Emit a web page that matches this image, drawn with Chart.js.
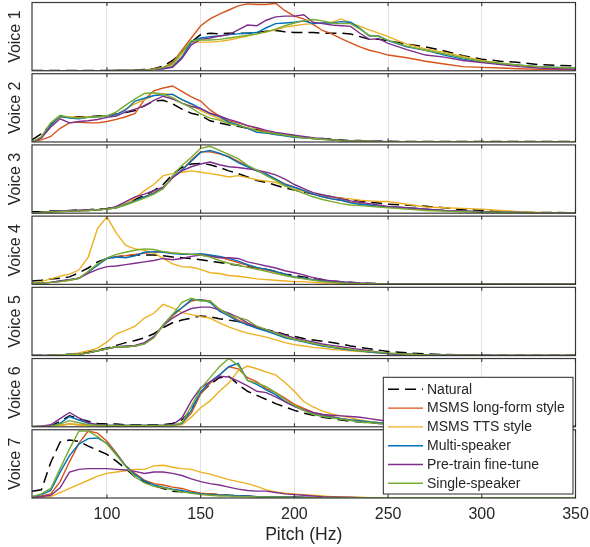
<!DOCTYPE html>
<html>
<head>
<meta charset="utf-8">
<title>Pitch distributions per voice</title>
<script src="https://cdn.jsdelivr.net/npm/chart.js@4.4.1/dist/chart.umd.min.js"></script>
<style>
  html, body { margin: 0; padding: 0; background: #fff; }
  #wrap { position: relative; width: 590px; height: 547px; }
</style>
</head>
<body>
<div id="wrap"><canvas id="pitchChart" width="590" height="547"></canvas></div>
<script>
// x positions of the histogram points (Hz)
const PITCH = [60,65,70,75,80,85,90,95,100,105,110,115,120,125,130,135,140,145,150,155,160,165,170,175,180,185,190,195,200,205,210,215,220,225,230,235,240,245,250,260,270,280,290,300,310,320,330,340,350];
const X_TICKS = [100, 150, 200, 250, 300, 350];
const VOICE_LABELS = ["Voice 1", "Voice 2", "Voice 3", "Voice 4", "Voice 5", "Voice 6", "Voice 7"];
const SERIES_LABELS = ["Natural", "MSMS long-form style", "MSMS TTS style", "Multi-speaker", "Pre-train fine-tune", "Single-speaker"];
const SERIES_COLORS = ["#000000", "#D95319", "#EDB120", "#0072BD", "#7E2F8E", "#77AC30"];

// values are relative density, 0-100 of each panel's height
const voice1Natural  = [0.5,0.5,0.5,0.5,0.5,0.5,0.5,0.5,0.5,0.5,0.5, 1,2,3,7,15,27,42,53,55,54, 55,55,55,56,58,59,57,56,56,56, 55,55,55,54,50,46,46,44, 39,35,29,22,17,14,12,9,8,7];
const voice1LongForm = [0,0,0,0,0,0,0,0,0,0.3,0.5, 1,1,3,5,12,30,48,66,76,83, 89,95,98,97,97,99,88,80,76,68, 59,54,47,41,35,30,27,23, 19,14,10,6,5,4,3,2,2,1];
const voice1Tts      = [0,0,0,0,0,0,0,0,0,0.3,0.5, 0.5,1,2,4,8,25,42,42,42,43, 45,48,51,54,57,60,64,66,68,69, 70,71,76,70,65,60,55,50, 39,32,27,21,15,11,8,6,4,3];
const voice1Multi    = [0,0,0,0,0,0,0,0,0,0.3,0.5, 0.5,1,2,3,6,20,42,48,50,51, 53,54,55,56,63,69,70,71,73,69, 70,70,72,71,62,51,51,44, 35,30,23,17,13,10,8,6,5,4];
const voice1PreTrain = [0,0,0,0,0,0,0,0,0,0.3,0.5, 0.5,1,2,3,5,18,38,46,48,51, 53,60,67,66,74,79,80,80,82,71, 69,67,66,65,55,46,47,40, 31,23,20,15,12,9,6,4,3,2];
const voice1Single   = [0,0,0,0,0,0,0,0,0,0.3,0.5, 0.5,1,2,5,10,28,44,45,45,46, 48,50,52,54,57,61,66,70,73,75, 73,70,69,69,61,52,50,45, 36,30,25,19,14,11,8,6,5,4];

const voice2Natural  = [3,12,25,37,37,37,37,38,39,41,43, 46,53,60,61,56,48,42,39,31,28, 25,23,20,18,15,12,10,9,7,6, 5,4,3,2,2,1,1,1, 0.5,0.5,0.5,0.5,0.5,0.5,0.5,0.5,0.5,0.5];
const voice2LongForm = [0,3,8,20,28,29,28,28,30,33,37, 42,62,75,79,82,74,66,60,47,38, 31,28,24,20,15,12,10,8,7,5, 4,3,2,1,1,0.5,0.5,0.5, 0.3,0.3,0.3,0.3,0.3,0.3,0.3,0.3,0.3,0.3];
const voice2Tts      = [0,6,24,37,37,36,37,37,38,40,48, 56,62,68,71,69,62,55,46,40,34, 29,25,20,16,13,11,9,7,6,5, 4,3,2,1.5,1,1,0.5,0.5, 0.3,0.3,0.3,0.3,0.3,0.3,0.3,0.3,0.3,0.3];
const voice2Multi    = [0,6,25,38,35,34,36,37,38,40,47, 60,64,68,69,70,62,56,49,42,37, 29,25,20,14,13,11,9,7,6,5, 4,3,2,1.5,1,1,0.5,0.5, 0.3,0.3,0.3,0.3,0.3,0.3,0.3,0.3,0.3,0.3];
const voice2PreTrain = [0,6,22,34,28,30,31,33,36,38,44, 48,53,61,67,63,57,52,49,42,38, 33,29,24,21,17,14,12,10,8,6, 5,3,2,2,1.5,1,1,0.5, 0.3,0.3,0.3,0.3,0.3,0.3,0.3,0.3,0.3,0.3];
const voice2Single   = [0,8,28,39,36,35,36,37,38,44,54, 63,71,72,70,65,57,50,41,35,32, 27,24,21,17,14,12,10,8,6,5, 4,3,2,1.5,1,1,0.5,0.5, 0.3,0.3,0.3,0.3,0.3,0.3,0.3,0.3,0.3,0.3];

const voice3Natural  = [2,2,3,3,4,5,5,6,7,9,14, 20,26,33,42,57,67,72,73,71,67, 62,58,53,48,45,41,37,34,31,28, 26,24,22,20,18,16,15,13, 12,10,8,5,4,2,1.5,1,1,0.5];
const voice3LongForm = [0,1,2,3,3,4,4,5,6,8,13, 18,24,30,37,52,63,78,90,90,87, 83,76,69,62,57,50,43,38,33,28, 24,21,19,16,14,12,10,9, 8,6,4,3,2,1.5,1,0.5,0.5,0.5];
const voice3Tts      = [0,1,2,2,3,4,4,5,6,9,14, 22,33,42,55,58,60,62,60,58,56, 53,55,52,49,47,45,40,35,32,29, 26,24,22,21,19,18,17,17, 13,9,8,7,6,4,2,1,0.5,0.5];
const voice3Multi    = [0,1,2,3,3,4,4,5,6,8,13, 18,24,29,37,53,63,76,89,92,88, 82,74,68,62,57,50,42,38,33,28, 24,21,19,15,13,12,10,9, 8,6,4,3,2,1.5,1,0.5,0.5,0.5];
const voice3PreTrain = [0,1,2,3,3,4,5,5,6,10,17, 24,28,33,38,52,62,68,72,75,71, 68,67,65,63,60,56,50,42,36,30, 27,24,21,18,16,14,12,10, 8,6,4,3,2,1,1,0.5,0.5,0.3];
const voice3Single   = [0,1,2,2,3,3,4,5,6,8,12, 17,22,28,36,55,70,82,95,98,92, 86,80,70,63,55,48,40,34,29,24, 20,17,14,12,11,10,9,8, 6,4,3,2,1.5,1,0.5,0.5,0.3,0.3];

const voice4Natural  = [5,6,8,9,11,17,24,33,38,40,42, 43,43,43,42,40,39,38,36,34,32, 30,28,26,24,22,19,15,13,11,9, 7,5,4,3,2,1.5,1,1, 0.5,0.5,0.5,0.5,0.5,0.5,0.5,0.5,0.5,0.5];
const voice4LongForm = [1,2,3,4,6,9,18,29,38,41,42, 44,46,47,48,46,45,44,44,42,40, 36,32,28,24,21,18,14,11,9,7, 5,4,3,2,1.5,1,0.5,0.5, 0.3,0.3,0.3,0.3,0.3,0.3,0.3,0.3,0.3,0.3];
const voice4Tts      = [2,4,8,12,15,21,40,82,99,75,57, 52,50,46,38,30,26,25,22,17,16, 13,12,10,8,7,6,5,4,4,3, 2,2,1.5,1,1,1,0.5,0.5, 0.3,0.3,0.3,0.3,0.3,0.3,0.3,0.3,0.3,0.3];
const voice4Multi    = [1,2,3,5,7,9,18,28,38,40,39, 42,47,48,47,45,44,44,45,43,41, 38,34,29,25,22,19,15,11,9,7, 5,4,3,2,1.5,1,0.5,0.5, 0.3,0.3,0.3,0.3,0.3,0.3,0.3,0.3,0.3,0.3];
const voice4PreTrain = [1,2,3,5,7,9,16,22,26,27,29, 31,33,35,38,36,38,41,43,41,39, 39,38,33,30,27,24,20,17,14,10, 7,5,4,3,2,1.5,1,1, 0.5,0.5,0.3,0.3,0.3,0.3,0.3,0.3,0.3,0.3];
const voice4Single   = [1,2,3,4,6,9,19,30,39,44,47, 50,52,51,48,46,45,44,43,40,35, 31,28,25,22,19,16,13,10,8,6, 4,3,2,1.5,1,1,0.5,0.5, 0.3,0.3,0.3,0.3,0.3,0.3,0.3,0.3,0.3,0.3];

const voice5Natural  = [0.5,0.5,1,1,2,3,5,8,11,15,19, 22,26,32,41,48,52,55,58,57,54, 52,50,45,42,38,35,31,28,25,23, 21,19,17,14,12,10,8,6, 4,2.5,1.5,1,0.5,0.5,0.5,0.5,0.5,0.5];
const voice5LongForm = [0,0,0.5,1,1.5,2,4,7,10,13,13, 14,18,27,44,58,70,80,82,80,68, 60,52,46,41,37,32,27,24,21,18, 15,12,10,8,7,5,4,3, 2,1,1,0.5,0.5,0.3,0.3,0.3,0.3,0.3];
const voice5Tts      = [0,0,0.5,1,2,4,7,11,20,32,37, 43,55,62,75,70,63,60,57,55,48, 42,37,33,30,27,23,19,16,14,12, 11,9,8,7,6,5,4,3, 2,1,0.5,0.3,0.3,0.3,0.3,0.3,0.3,0.3];
const voice5Multi    = [0,0,0.5,1,1.5,2,4,7,10,13,13, 14,18,27,45,60,70,82,82,78,65, 58,50,45,40,36,31,26,23,20,17, 14,12,10,8,7,5,4,3, 2,1,1,0.5,0.5,0.3,0.3,0.3,0.3,0.3];
const voice5PreTrain = [0,0,0.5,1,1.5,2,4,7,10,13,14, 15,19,28,44,55,63,69,71,71,67, 62,56,48,42,38,34,30,26,23,20, 17,15,13,11,9,7,5,3, 2,1,0.5,0.5,0.3,0.3,0.3,0.3,0.3,0.3];
const voice5Single   = [0,0,0.5,1,1.5,2,4,7,10,13,13, 14,17,26,45,60,78,84,80,80,68, 60,56,52,43,38,33,28,24,21,18, 15,13,11,9,7,6,5,4, 2,1,0.5,0.5,0.3,0.3,0.3,0.3,0.3,0.3];

const voice6Natural  = [0.5,0.5,1,8,16,12,8,5,4,4,3, 3,3,3,3,5,10,25,50,62,72, 74,62,52,46,40,34,29,24,20,17, 14,12,10,8,7,6,5,4, 3,2,1.5,1,0.5,0.5,0.5,0.5,0.5,0.5];
const voice6LongForm = [0,0.5,1,2,4,3,2,2,1.5,1.5,1.5, 1.5,1.5,1.5,1.5,2,5,20,48,64,76, 88,85,72,66,56,50,42,33,27,21, 18,15,12,10,9,7,6,5, 4,3,2,1.5,1,1,0.5,0.5,0.5,0.5];
const voice6Tts      = [0,0,1,2,4,3,2,1.5,1.5,1,1, 1,1,1,1,2,3,14,28,38,52, 64,82,89,85,80,76,65,52,37,29, 23,19,16,13,10,8,6,5, 4,3,2,1,1,0.5,0.5,0.3,0.3,0.3];
const voice6Multi    = [0,0.5,1,5,15,10,5,3,2,2,2, 2,2,2,2,2,5,24,51,66,76, 88,93,68,62,54,47,37,30,24,19, 16,14,12,10,9,7,6,5, 4,3,2,1.5,1,1,0.5,0.5,0.5,0.5];
const voice6PreTrain = [0,1,3,12,21,13,6,3,2,2,2, 2,2,2,2,3,13,38,57,66,74, 73,67,60,52,50,44,37,30,25,21, 18,17,16,15,14,12,10,8, 6,4,3,2,1.5,1,0.5,0.5,0.5,0.5];
const voice6Single   = [0,0.5,1,4,9,6,3,2,2,2,2, 2,2,2,2,2,6,30,56,72,88, 100,90,68,64,59,50,40,31,24,18, 15,13,11,9,7,6,5,4, 3,2,1.5,1,1,0.5,0.5,0.5,0.5,0.5];

const voice7Natural  = [10,12,52,82,85,83,76,70,64,54,43, 31,24,18,14,10,9,8,7,6,5, 4,3.5,3,2,1.5,1,1,1,0.8,0.5, 0.5,0.5,0.5,0.5,0.5,0.5,0.5,0.5, 0.5,0.5,0.5,0.5,0.5,0.5,0.5,0.5,0.5,0.5];
const voice7LongForm = [1.5,3,6,24,53,80,98,95,83,66,47, 36,26,21,19,16,14,10,7,6,5, 4,3,3,2,2,1.5,1.5,1,1,0.5, 0.5,0.5,0.5,0.5,0.5,0.5,0.5,0.5, 0.3,0.3,0.3,0.3,0.3,0.3,0.3,0.3,0.3,0.3];
const voice7Tts      = [0.5,1,2,8,14,20,26,32,36,38,40, 42,42,47,48,45,43,42,38,35,31, 27,24,21,17,12,9,7,6,5,4, 3,2,2,1,1,0.5,0.5,0.5, 0.3,0.3,0.3,0.3,0.3,0.3,0.3,0.3,0.3,0.3];
const voice7Multi    = [2,5,11,38,62,79,87,88,80,64,47, 34,25,19,16,13,11,8,6,5,4, 4,3,3,2,2,1.5,1.5,1,1,0.5, 0.5,0.5,0.5,0.5,0.5,0.5,0.5,0.5, 0.3,0.3,0.3,0.3,0.3,0.3,0.3,0.3,0.3,0.3];
const voice7PreTrain = [0.5,2,4,15,38,42,43,43,43,42,41, 39,36,38,38,36,33,28,24,21,19, 16,13,11,10,10,8,6,5,4,3, 2,1.5,1,1,0.5,0.5,0.5,0.5, 0.3,0.3,0.3,0.3,0.3,0.3,0.3,0.3,0.3,0.3];
const voice7Single   = [2,6,14,43,72,98,98,90,79,63,46, 31,22,17,15,12,9,7,5,4,3, 3,2,2,1.5,1.5,1,1,0.5,0.5,0.5, 0.3,0.3,0.3,0.3,0.3,0.3,0.3,0.3, 0.3,0.3,0.3,0.3,0.3,0.3,0.3,0.3,0.3,0.3];

const voices = [
    [voice1Natural, voice1LongForm, voice1Tts, voice1Multi, voice1PreTrain, voice1Single],
    [voice2Natural, voice2LongForm, voice2Tts, voice2Multi, voice2PreTrain, voice2Single],
    [voice3Natural, voice3LongForm, voice3Tts, voice3Multi, voice3PreTrain, voice3Single],
    [voice4Natural, voice4LongForm, voice4Tts, voice4Multi, voice4PreTrain, voice4Single],
    [voice5Natural, voice5LongForm, voice5Tts, voice5Multi, voice5PreTrain, voice5Single],
    [voice6Natural, voice6LongForm, voice6Tts, voice6Multi, voice6PreTrain, voice6Single],
    [voice7Natural, voice7LongForm, voice7Tts, voice7Multi, voice7PreTrain, voice7Single],
];

const TEXT_COLOR = "#262626";
const FRAME_COLOR = "#3a3a3a";
Chart.defaults.font.family = "'Liberation Sans', Arial, Helvetica, sans-serif";
Chart.defaults.color = TEXT_COLOR;

//one dataset per voice and system, each on its own stacked y axis
const datasets = [];
voices.forEach((series, v) => {
    series.forEach((values, s) => {
        datasets.push({
            label: SERIES_LABELS[s],
            data: values,
            yAxisID: `y${v + 1}`,
            borderColor: SERIES_COLORS[s],
            borderWidth: s === 0 ? 1.5 : 1.4,
            borderDash: s === 0 ? [11, 6] : [],
            pointRadius: 0,
            fill: false,
            tension: 0,
            order: SERIES_LABELS.length - s,
        });
    });
});

const PANEL_WEIGHT = 68.3;
const GAP_WEIGHT = 2.95;
const Y_AXIS_WIDTH = 30;    // room for the rotated "Voice n" titles
const X_AXIS_HEIGHT = 49;   // tick labels + "Pitch (Hz)"

const scales = {
    x: {
        type: "linear",
        min: 60,
        max: 350,
        afterBuildTicks: (axis) => { axis.ticks = X_TICKS.map((value) => ({ value })); },
        afterFit: (axis) => { axis.height = X_AXIS_HEIGHT; },
        // invisible tick marks push the labels down without widening the right padding
        grid: { color: "#e2e2e2", lineWidth: 1, drawTicks: true, tickLength: 7.4, tickColor: "rgba(0,0,0,0)" },
        border: { display: false },
        ticks: { padding: 0, font: { size: 16 }, color: TEXT_COLOR, maxRotation: 0 },
        title: { display: true, text: "Pitch (Hz)", font: { size: 17.6 }, color: TEXT_COLOR, padding: { top: 0, bottom: 1.3 } },
    },
};
// left stacked axes are laid out last-defined on top, so go from voice 7 up
for (let v = VOICE_LABELS.length; v >= 1; v--) {
    scales[`y${v}`] = {
        type: "linear",
        axis: "y",
        position: "left",
        stack: "panels",
        stackWeight: PANEL_WEIGHT,
        min: 0,
        max: 100,
        afterFit: (axis) => { axis.width = Y_AXIS_WIDTH; },
        grid: { display: false, drawTicks: false },
        border: { display: false },
        ticks: { display: false },
        title: { display: true, text: VOICE_LABELS[v - 1], font: { size: 16 }, color: TEXT_COLOR, padding: { top: 4, bottom: 6.8 } },
    };
    if (v > 1) {
        scales[`gap${v - 1}`] = {
            type: "linear",
            axis: "y",
            position: "left",
            stack: "panels",
            stackWeight: GAP_WEIGHT,
            display: false,
        };
    }
}

//white gaps between panels, then frames and inward ticks
const panelFrames = {
    id: "panelFrames",
    beforeDatasetsDraw(chart) {
        const { ctx, chartArea } = chart;
        ctx.save();
        ctx.fillStyle = "#ffffff";
        for (let g = 1; g < VOICE_LABELS.length; g++) {
            const s = chart.scales[`gap${g}`];
            ctx.fillRect(chartArea.left - 2, s.top, chartArea.width + 4, s.bottom - s.top);
        }
        ctx.restore();
    },
    afterDatasetsDraw(chart) {
        const { ctx, chartArea } = chart;
        const xScale = chart.scales.x;
        ctx.save();
        for (let v = 1; v <= VOICE_LABELS.length; v++) {
            const s = chart.scales[`y${v}`];
            ctx.strokeStyle = FRAME_COLOR;
            ctx.lineWidth = 1.2;
            ctx.strokeRect(chartArea.left, s.top, chartArea.width, s.bottom - s.top);
            ctx.strokeStyle = TEXT_COLOR;
            ctx.lineWidth = 1;
            X_TICKS.forEach((t) => {
                const px = xScale.getPixelForValue(t);
                ctx.beginPath();
                ctx.moveTo(px, s.bottom);
                ctx.lineTo(px, s.bottom - 3.5);
                ctx.moveTo(px, s.top);
                ctx.lineTo(px, s.top + 3.5);
                ctx.stroke();
            });
        }
        ctx.restore();
    },
};

//legend box in the lower right corner
const legendBox = {
    id: "legendBox",
    afterDraw(chart) {
        const { ctx, chartArea } = chart;
        const items = chart.data.datasets.slice(0, SERIES_LABELS.length);
        ctx.save();
        ctx.font = "14px 'Liberation Sans', Arial, Helvetica, sans-serif";
        const textW = Math.max(...items.map((d) => ctx.measureText(d.label).width));
        const rowH = 18.8;
        const w = 44 + textW + 8;
        const h = 12 + rowH * (items.length - 1) + 10.7;
        const left = chartArea.right - 2.5 - w;
        const top = chartArea.bottom - 4 - h;
        ctx.fillStyle = "#ffffff";
        ctx.fillRect(left, top, w, h);
        ctx.strokeStyle = TEXT_COLOR;
        ctx.lineWidth = 1;
        ctx.strokeRect(left, top, w, h);
        items.forEach((d, i) => {
            const y = top + 12 + i * rowH;
            ctx.beginPath();
            ctx.setLineDash(d.borderDash);
            ctx.strokeStyle = d.borderColor;
            ctx.lineWidth = d.borderWidth;
            ctx.moveTo(left + 4.7, y);
            ctx.lineTo(left + 39.7, y);
            ctx.stroke();
            ctx.setLineDash([]);
            ctx.fillStyle = TEXT_COLOR;
            ctx.textBaseline = "middle";
            ctx.textAlign = "left";
            ctx.fillText(d.label, left + 43.7, y + 0.5);
        });
        ctx.restore();
    },
};

const ctx = document.getElementById("pitchChart");
const pitchChart = new Chart(ctx, {
    type: "line",
    data: { labels: PITCH, datasets },
    options: {
        responsive: false,
        animation: false,
        layout: { padding: { left: 2, right: 14.5, top: 2.5, bottom: 0 } },
        plugins: { legend: { display: false }, tooltip: { enabled: false } },
        scales,
    },
    plugins: [panelFrames, legendBox],
});
</script>
</body>
</html>
